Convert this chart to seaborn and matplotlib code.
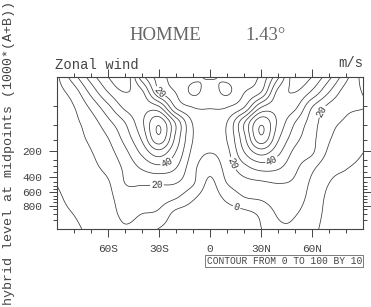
import numpy as np
import matplotlib
matplotlib.use("Agg")
import matplotlib.pyplot as plt
import seaborn as sns

# ---------------- data ----------------
# model hybrid level midpoints, 1000*(A+B)
hyb_levels = [3.54, 7.39, 13.97, 23.94, 37.23, 53.11, 70.06, 85.44, 100.51, 118.25,
              139.12, 163.66, 192.54, 226.51, 266.48, 313.50, 368.82, 433.90, 510.46,
              600.52, 696.80, 787.70, 867.16, 929.65, 970.55, 992.56]
lat_cols = [-90, -80, -70, -60, -50, -40, -30, -20, -10, 0,
            10, 20, 30, 40, 50, 60, 70, 80, 90]
# rows in model-level index (0 = top level, 25 = bottom level)
row_idx = [0, 2.5, 5, 7.5, 10, 12.5, 15, 17.5, 20, 22.5, 25]

# zonal wind (m/s) for each latitude, top to bottom
u_90S = [8, 6, 5, 4.5, 4, 3.5, 2, 0.3, -1.5, -2.5, -3]
u_80S = [26, 15, 9.7, 8, 7, 6, 5, 4, 2.5, 0.2, -1.5]
u_70S = [45, 33, 22, 15, 12, 9.5, 8, 6.5, 5, 3.5, 2]
u_60S = [60, 50, 37, 27, 20, 16, 12.5, 9, 7.5, 6.5, 5]
u_50S = [68, 60, 52, 40, 34, 27, 22, 20, 15, 12, 9]
u_40S = [34, 52, 56, 58, 52, 42, 31, 21, 15, 10, 6]
u_30S = [15, 21, 52, 78, 78, 55, 36, 21, 14, 8, -0.5]
u_20S = [5.5, 9.5, 19, 48, 47, 39, 30, 20, 10, -3, -6]
u_10S = [2, -1.5, 10, 19, 20, 17, 13, 11, 1, -5, -8]
u_EQ = [-0.8, 4, 9.5, 15, 16, 10, 3, -2, -5, -7, -8]
u_10N = [2, -1.5, 10, 20, 20.5, 17, 14, 10, 2, -5, -8]
u_20N = [5, 9.5, 20, 49, 47, 39, 26, 16, 9, -3, -6]
u_30N = [12, 20, 50, 78, 78, 53, 33, 18, 11, 2, -0.3]
u_40N = [38, 53, 56, 58, 52, 42, 31, 20, 15, 11, 8]
u_50N = [66, 60, 52, 40, 34, 27, 22, 18, 14, 10.5, 8.5]
u_60N = [60, 48, 30, 25, 23, 21, 12, 8, 6.5, 5, 3]
u_70N = [43, 30, 17, 13, 11, 8, 3, 0, -2, -3, -4]
u_80N = [23, 15, 11.5, 9, 6.5, 4, 0.3, -2, -3, -4, -4]
u_90N = [6, 9.6, 10.2, 6.5, 3, 0, -2, -3, -4, -4, -4]

contour_levels = list(range(0, 101, 10))
label_levels = [0, 20, 40]
xtick_vals = [-60, -30, 0, 30, 60]
xtick_text = ["60S", "30S", "0", "30N", "60N"]
ytick_vals = [200, 400, 600, 800]
ytick_minor_vals = [p for p in range(50, 1000, 50) if p not in (200, 400, 600, 800)]

# ---------------- smooth (Catmull-Rom) resampling ----------------
def cr_resample(arr, n_out, axis):
    a = np.moveaxis(np.asarray(arr, float), axis, -1)
    n = a.shape[-1]
    pad = np.concatenate([2 * a[..., :1] - a[..., 1:2], a,
                          2 * a[..., -1:] - a[..., -2:-1]], axis=-1)
    t = np.linspace(0, n - 1, n_out)
    i = np.clip(np.floor(t).astype(int), 0, n - 2)
    u = t - i
    p0, p1, p2, p3 = pad[..., i], pad[..., i + 1], pad[..., i + 2], pad[..., i + 3]
    out = 0.5 * (2 * p1 + (-p0 + p2) * u + (2 * p0 - 5 * p1 + 4 * p2 - p3) * u ** 2
                 + (-p0 + 3 * p1 - 3 * p2 + p3) * u ** 3)
    return np.moveaxis(out, -1, axis)

U = np.array([u_90S, u_80S, u_70S, u_60S, u_50S, u_40S, u_30S, u_20S, u_10S, u_EQ,
              u_10N, u_20N, u_30N, u_40N, u_50N, u_60N, u_70N, u_80N, u_90N]).T
nlat, nrow = 361, 251
Uf = cr_resample(cr_resample(U, nrow, 0), nlat, 1)
latf = np.linspace(lat_cols[0], lat_cols[-1], nlat)
rowf = np.linspace(row_idx[0], row_idx[-1], nrow)

# ---------------- figure ----------------
sns.set_style("ticks")
plt.rcParams["font.family"] = ["Liberation Mono", "DejaVu Sans"]
W, H = 371, 307
fig = plt.figure(figsize=(W / 100, H / 100), dpi=100)
ax = fig.add_axes([57 / W, 1 - 229 / H, 306 / W, 152 / H])

line_col = "#3a3a3a"
other_levels = [v for v in contour_levels if v not in label_levels]
ax.contour(latf, rowf, Uf, levels=other_levels, colors=line_col, linewidths=0.55)
cs = ax.contour(latf, rowf, Uf, levels=label_levels, colors=line_col, linewidths=0.55)
ax.set_xlim(-90, 90)
ax.set_ylim(25, 0)

lab_pos = [(-30, 2.6), (-25.3, 14.1), (-31.2, 17.8), (64, 5.4),
           (15.3, 14.0), (36.5, 13.8), (15.9, 21.2)]
ax.clabel(cs, manual=lab_pos, fmt="%d", fontsize=7,
          inline=True, inline_spacing=1, colors=line_col)

lev_index = np.arange(len(hyb_levels))
ax.set_xticks(xtick_vals)
ax.set_xticklabels(xtick_text)
ax.set_xticks(list(range(-80, 90, 10)), minor=True)
ax.set_yticks(np.interp(ytick_vals, hyb_levels, lev_index))
ax.set_yticklabels([str(v) for v in ytick_vals])
ax.set_yticks(np.interp(ytick_minor_vals, hyb_levels, lev_index), minor=True)

ax.tick_params(axis="both", which="both", direction="out", top=True, right=True,
               labeltop=False, labelright=False, colors="#444444", width=0.7,
               labelsize=8, labelcolor="#444444")
ax.tick_params(axis="both", which="major", length=5.8)
ax.tick_params(axis="both", which="minor", length=2.9)
ax.tick_params(axis="x", which="major", pad=5)
ax.tick_params(axis="y", which="major", pad=5)
for s in ax.spines.values():
    s.set_linewidth(0.8)
    s.set_color("#444444")

# texts
fig.text(165 / W, 1 - 35 / H, "HOMME", ha="center", va="center",
         family="Liberation Serif", fontsize=13.5, color="#666666")
fig.text(266 / W, 1 - 35 / H, "1.43°", ha="center", va="center",
         family="Liberation Serif", fontsize=13.5, color="#666666")
fig.text(55 / W, 1 - 65 / H, "Zonal wind", ha="left", va="center",
         fontsize=10, color="#444444")
fig.text(363 / W, 1 - 63 / H, "m/s", ha="right", va="center",
         fontsize=10, color="#444444")
fig.text(9 / W, 1 - 153 / H, "hybrid level at midpoints (1000*(A+B))",
         rotation=90, ha="center", va="center", fontsize=9.6, color="#444444")
fig.text(362 / W, 1 - 261 / H, "CONTOUR FROM 0 TO 100 BY 10", ha="right",
         va="center", fontsize=6.9, color="#444444",
         bbox=dict(boxstyle="square,pad=0.15", fc="white", ec="#666666", lw=0.6))

fig.savefig("out.png", dpi=100)
